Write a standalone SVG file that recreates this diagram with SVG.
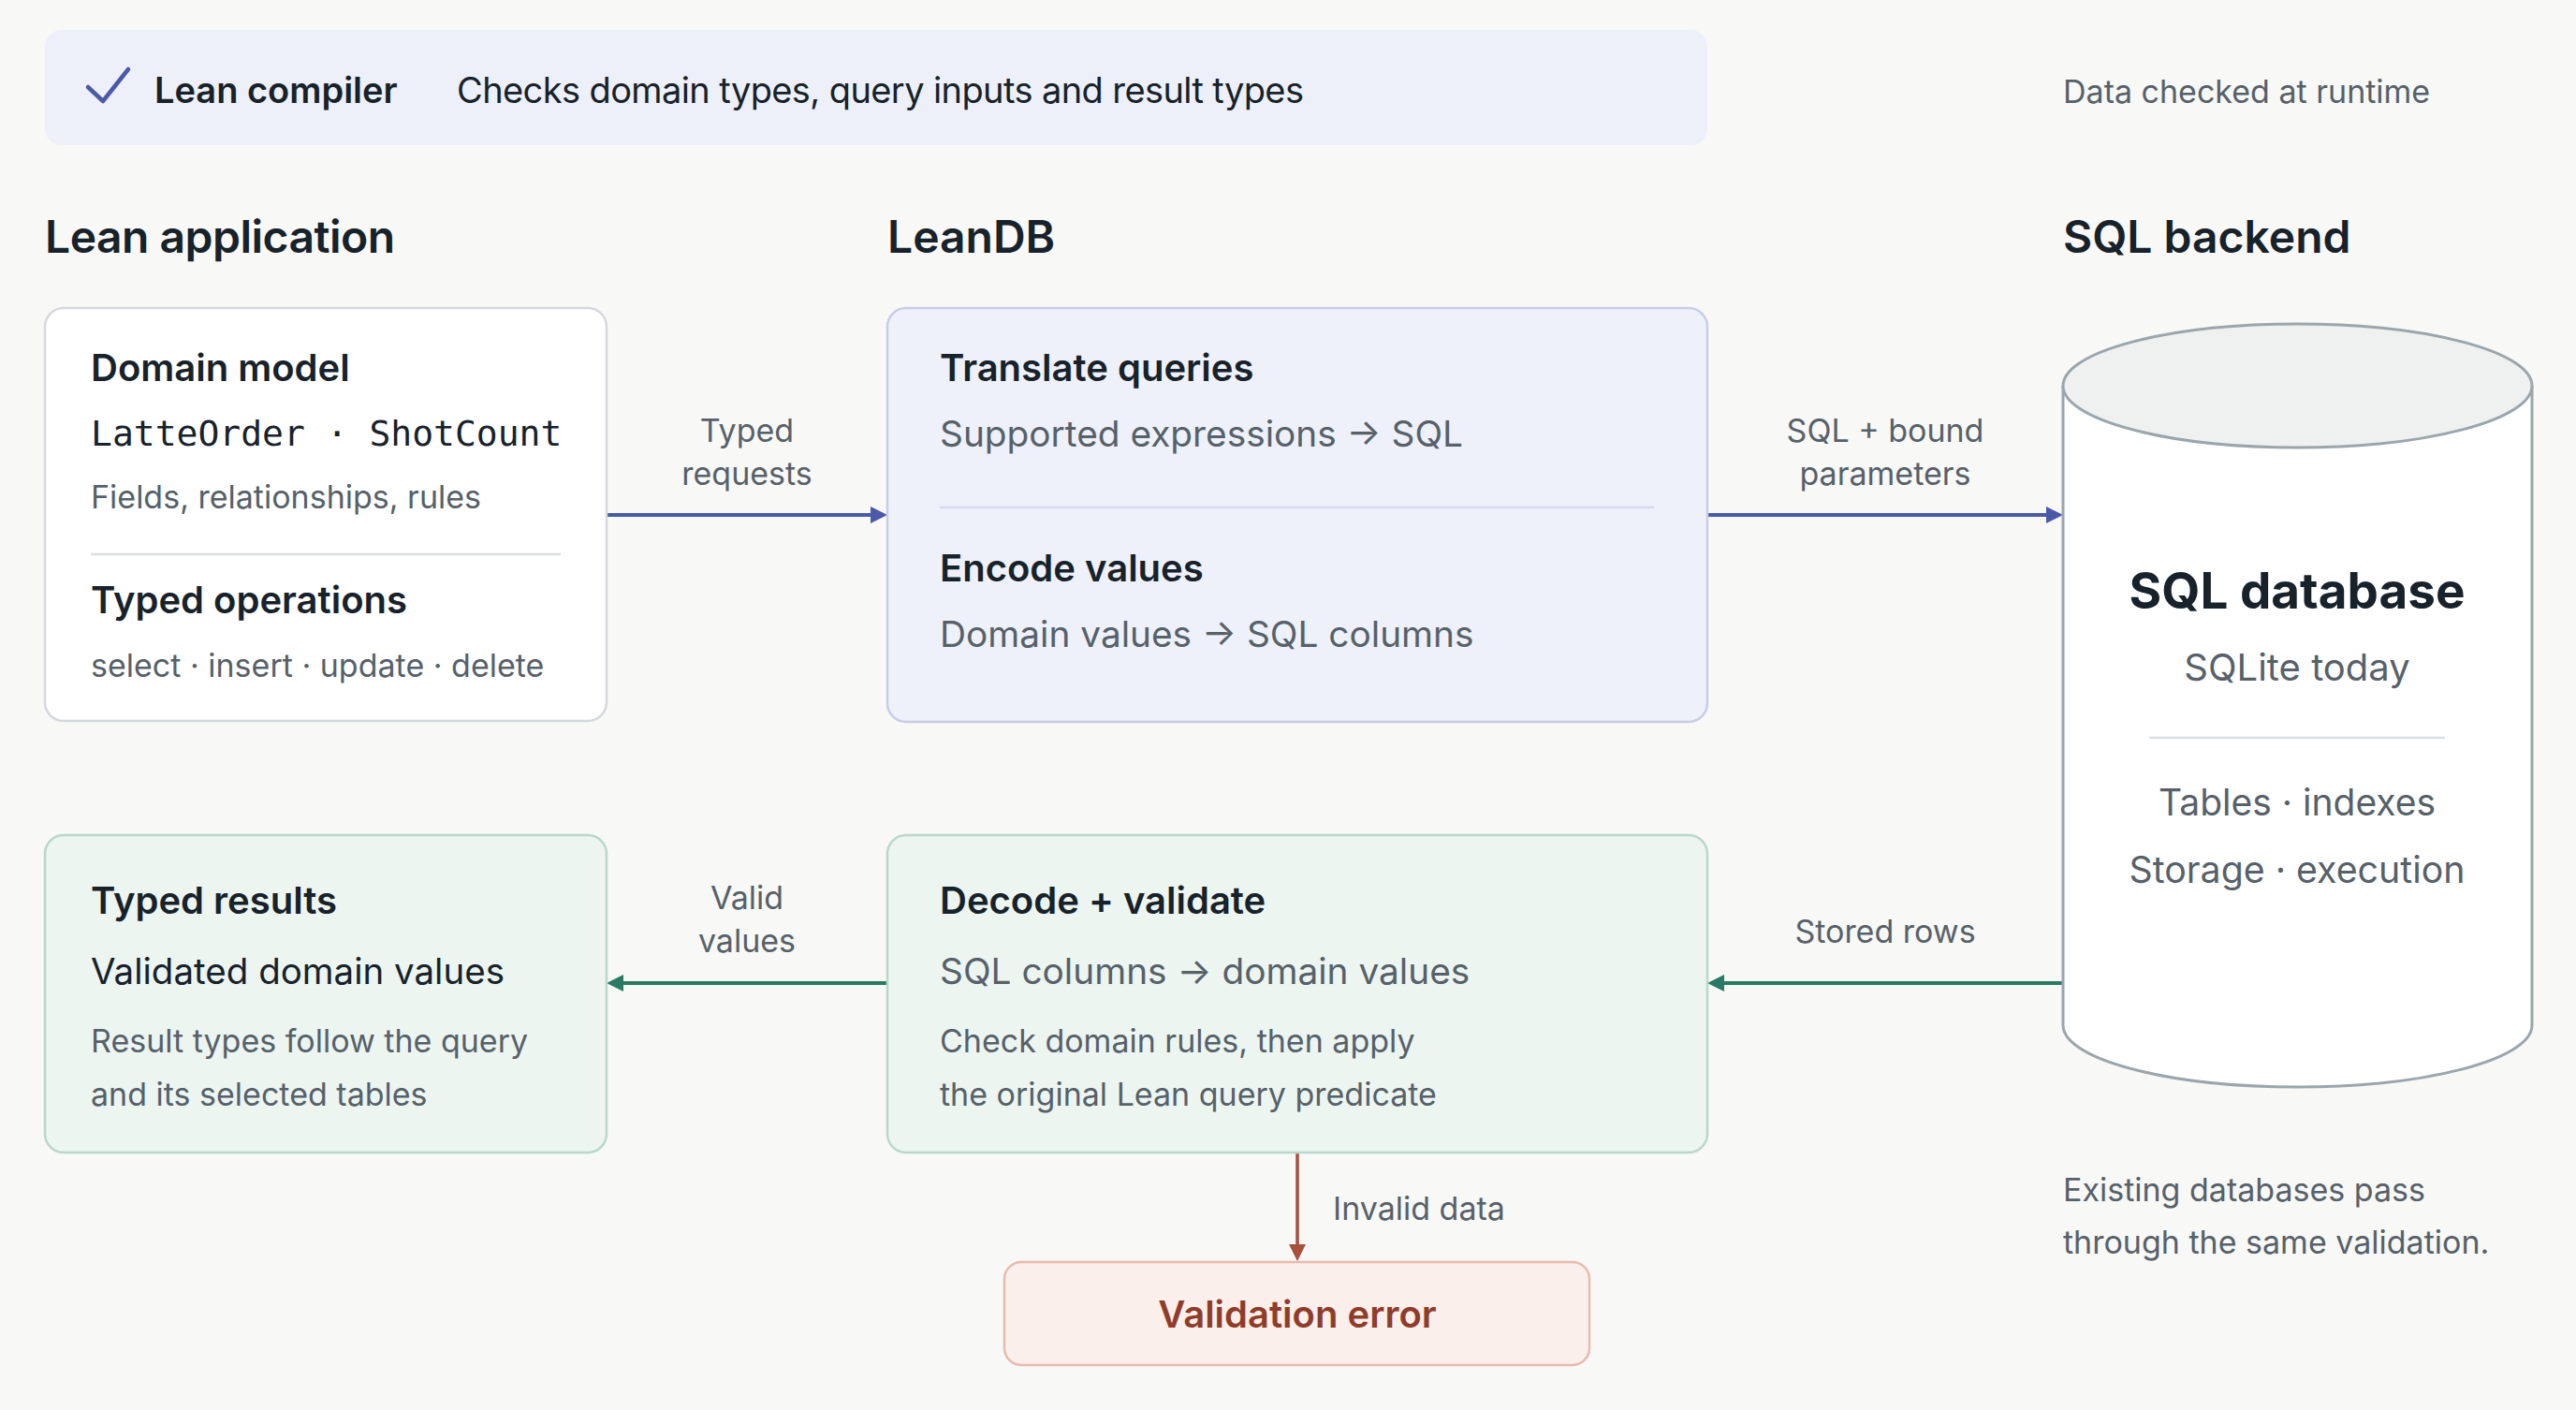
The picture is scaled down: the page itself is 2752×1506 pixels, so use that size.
<svg xmlns="http://www.w3.org/2000/svg" width="2752" height="1506" viewBox="0 0 2752 1506">
<style>
text { font-family: Inter, "Noto Sans", "Liberation Sans", sans-serif; }
.dark { fill: #17222b; }
.gray { fill: #56616a; }
.h1 { font-size: 48px; font-weight: 600; fill: #17222b; }
.ttl { font-size: 40px; font-weight: 600; fill: #17222b; }
.sub { font-size: 38.8px; fill: #56616a; }
.sm { font-size: 34px; fill: #56616a; }
.lbl { font-size: 34px; fill: #56616a; text-anchor: middle; }
.mono { font-family: "DejaVu Sans Mono", "Liberation Mono", monospace; font-size: 38px; fill: #17222b; }
.mid { text-anchor: middle; }
.div { stroke: #dcdfe3; stroke-width: 2.5; }
.blue { stroke: #4a5aa8; stroke-width: 4; fill: none; }
.green { stroke: #2a7a63; stroke-width: 4; fill: none; }
.red { stroke: #a84f3d; stroke-width: 3.5; fill: none; }
</style>
<defs>
<marker id="ab" markerUnits="userSpaceOnUse" markerWidth="18" markerHeight="18" viewBox="0 0 18 18" refX="8" refY="9" orient="auto"><path d="M0,0 L18,9 L0,18 z" fill="#4a5aa8"/></marker>
<marker id="ag" markerUnits="userSpaceOnUse" markerWidth="18" markerHeight="18" viewBox="0 0 18 18" refX="8" refY="9" orient="auto"><path d="M0,0 L18,9 L0,18 z" fill="#2a7a63"/></marker>
<marker id="ar" markerUnits="userSpaceOnUse" markerWidth="18" markerHeight="18" viewBox="0 0 18 18" refX="8" refY="9" orient="auto"><path d="M0,0 L18,9 L0,18 z" fill="#a84f3d"/></marker>
</defs>
<rect width="2752" height="1506" fill="#f8f8f6"/>

<g id="banner">
<rect x="48" y="32" width="1776" height="123" rx="18" fill="#edf0f8"/>
<path d="M94,93 L110,108 L137,74" fill="none" stroke="#4a5aa8" stroke-width="4.5" stroke-linecap="round" stroke-linejoin="round"/>
<text x="165" y="110" style="font-size:38px;font-weight:600" class="dark">Lean compiler</text>
<text x="488" y="110" style="font-size:38px;letter-spacing:-0.6px" class="dark">Checks domain types, query inputs and result types</text>
</g>
<text id="runtime-note" x="2204" y="110" class="sm">Data checked at runtime</text>

<text id="col-app" x="48" y="270" class="h1" style="letter-spacing:-0.5px">Lean application</text>
<text id="col-leandb" x="948" y="270" class="h1">LeanDB</text>
<text id="col-sql" x="2204" y="270" class="h1">SQL backend</text>

<g id="connectors">
<line x1="648" y1="550" x2="938" y2="550" class="blue" marker-end="url(#ab)"/>
<text x="798" y="472" class="lbl">Typed</text>
<text x="798" y="518" class="lbl">requests</text>
<line x1="1824" y1="550" x2="2194" y2="550" class="blue" marker-end="url(#ab)"/>
<text x="2014" y="472" class="lbl">SQL + bound</text>
<text x="2014" y="518" class="lbl">parameters</text>
<line x1="948" y1="1050" x2="658" y2="1050" class="green" marker-end="url(#ag)"/>
<text x="798" y="971" class="lbl">Valid</text>
<text x="798" y="1017" class="lbl">values</text>
<line x1="2204" y1="1050" x2="1834" y2="1050" class="green" marker-end="url(#ag)"/>
<text x="2014" y="1007" class="lbl">Stored rows</text>
<line x1="1386" y1="1232" x2="1386" y2="1337" class="red" marker-end="url(#ar)"/>
<text x="1424" y="1303" class="sm">Invalid data</text>
</g>

<g id="app-box">
<rect x="48" y="329" width="600" height="441" rx="20" fill="#ffffff" stroke="#d5d8dc" stroke-width="2.5"/>
<text x="97" y="407" class="ttl">Domain model</text>
<text x="97" y="476" class="mono">LatteOrder · ShotCount</text>
<text x="97" y="543" class="sm">Fields, relationships, rules</text>
<line x1="97" y1="592" x2="599" y2="592" class="div"/>
<text x="97" y="655" class="ttl">Typed operations</text>
<text x="97" y="723" class="sm">select · insert · update · delete</text>
</g>

<g id="leandb-box">
<rect x="948" y="329" width="876" height="442" rx="20" fill="#eef1fa" stroke="#c7cde8" stroke-width="2.5"/>
<text x="1004" y="407" class="ttl">Translate queries</text>
<text x="1004" y="477" class="sub">Supported expressions → SQL</text>
<line x1="1004" y1="542" x2="1767" y2="542" class="div" style="stroke:#d6dbec"/>
<text x="1004" y="621" class="ttl">Encode values</text>
<text x="1004" y="691" class="sub">Domain values → SQL columns</text>
</g>

<g id="sql-database">
<path d="M2204,412 L2204,1095 A250.5,66 0 0 0 2705,1095 L2705,412" fill="#ffffff" stroke="#9aa6ad" stroke-width="3"/>
<ellipse cx="2454.5" cy="412" rx="250.5" ry="66" fill="#eff1f0" stroke="#9aa6ad" stroke-width="3"/>
<text x="2454" y="650" class="mid" style="font-size:53px;font-weight:700;fill:#17222b">SQL database</text>
<text x="2454" y="727" class="mid gray" style="font-size:40px">SQLite today</text>
<line x1="2296" y1="788" x2="2612" y2="788" class="div"/>
<text x="2454" y="871" class="mid gray" style="font-size:39px">Tables · indexes</text>
<text x="2454" y="943" class="mid gray" style="font-size:39.3px">Storage · execution</text>
</g>

<g id="results-box">
<rect x="48" y="892" width="600" height="339" rx="20" fill="#edf5f1" stroke="#b9d8c9" stroke-width="2.5"/>
<text x="97" y="976" class="ttl">Typed results</text>
<text x="97" y="1051" class="dark" style="font-size:38.5px">Validated domain values</text>
<text x="97" y="1124" class="sm">Result types follow the query</text>
<text x="97" y="1181" class="sm">and its selected tables</text>
</g>

<g id="decode-box">
<rect x="948" y="892" width="876" height="339" rx="20" fill="#edf5f1" stroke="#b9d8c9" stroke-width="2.5"/>
<text x="1004" y="976" class="ttl">Decode + validate</text>
<text x="1004" y="1051" class="sub">SQL columns → domain values</text>
<text x="1004" y="1124" class="sm">Check domain rules, then apply</text>
<text x="1004" y="1181" class="sm">the original Lean query predicate</text>
</g>

<g id="error-box">
<rect x="1073" y="1348" width="625" height="110" rx="18" fill="#faefeb" stroke="#e6bcae" stroke-width="2.5"/>
<text x="1386" y="1418" class="mid" style="font-size:40px;font-weight:600;fill:#8f3c2a">Validation error</text>
</g>

<g id="existing-note">
<text x="2204" y="1283" class="sm">Existing databases pass</text>
<text x="2204" y="1339" class="sm">through the same validation.</text>
</g>
</svg>
